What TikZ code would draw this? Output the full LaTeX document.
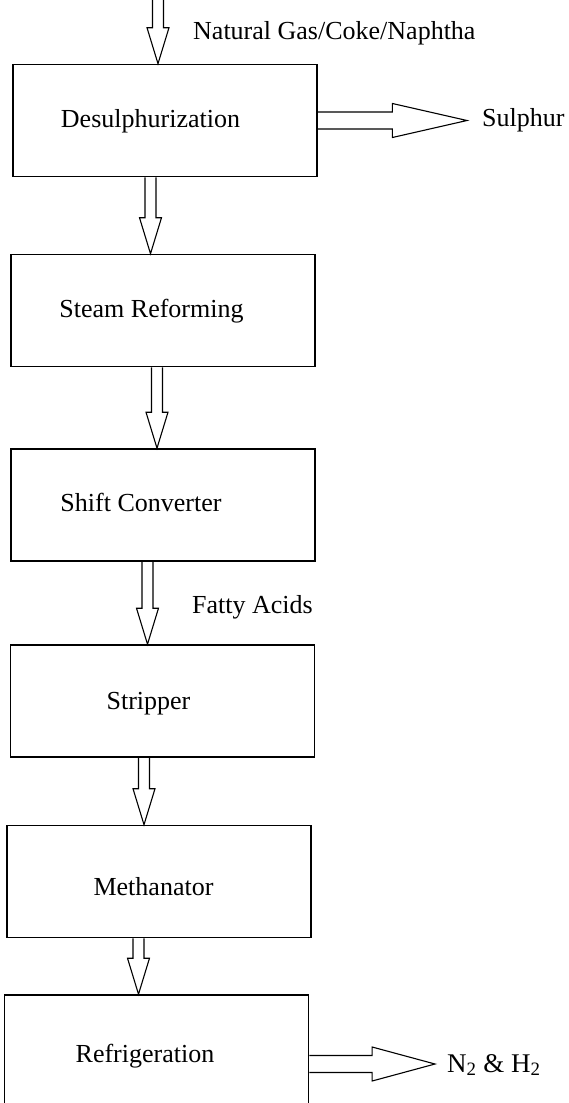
\documentclass[tikz,border=0pt]{standalone}
\usepackage{fontspec}
\setmainfont{Liberation Serif}
\usetikzlibrary{calc}

\begin{document}
\begin{tikzpicture}[x=1pt, y=-1pt,
		stage/.style={draw, line width=1.6pt, minimum width=304pt, minimum height=112pt, inner sep=0pt},
		tag/.style={inner sep=0pt, font=\fontsize{26}{30}\selectfont, text height=18pt, text depth=5pt},
		downflow/.style={line width=1.1pt, to path={let \p1=(\tikztostart), \p2=(\tikztotarget) in
			(\x1-5.5pt,\y1) -- (\x1-5.5pt,\y2+36pt) -- (\x1-11pt,\y2+36pt) -- (\x1,\y2)
			-- (\x1+11pt,\y2+36pt) -- (\x1+5.5pt,\y2+36pt) -- (\x1+5.5pt,\y1)}},
		rightflow/.style={line width=1.1pt, to path={let \p1=(\tikztostart), \p2=(\tikztotarget),
			\p3=($(\tikztostart)!0.5!(\tikztotarget)$) in
			(\x1,\y1+8.5pt) -- (\x3,\y1+8.5pt) -- (\x3,\y1+17pt) -- (\x2,\y1)
			-- (\x3,\y1-17pt) -- (\x3,\y1-8.5pt) -- (\x1,\y1-8.5pt)}}]
				\useasboundingbox (0,0) rectangle (568,1103);

				\node[stage, label={[tag, name=t1, xshift=-14.5pt]center:Desulphurization}] (desulph)at(165, 120.5) {};
				\node[stage, label={[tag, name=t2, xshift=-11.5pt]center:Steam Reforming}] (steam)at(163, 310.5) {};
				\node[stage, label={[tag, name=t3, xshift=-22pt]center:Shift Converter}] (shift)at(163, 505) {};
				\node[stage, label={[tag, name=t4, xshift=-14pt, yshift=-2pt]center:Stripper}] (stripper)at(162.5, 701) {};
				\node[stage, label={[tag, name=t5, xshift=-5.5pt, yshift=-7pt]center:Methanator}] (methan)at(159, 881.5) {};
				\node[stage, label={[tag, name=t6, xshift=-11.5pt, yshift=-5pt]center:Refrigeration}] (refrig)at(156.5, 1051) {};

				\node[tag, anchor=base west] (feedtxt)at(193, 39) {Natural Gas/Coke/Naphtha};
				\node[tag, anchor=base west] (sulphur)at(482, 126) {Sulphur};
				\node[tag, anchor=base west] (fatty)at(192, 613) {Fatty Acids};
				\node[tag, anchor=base west, font=\fontsize{27}{30}\selectfont] (products)at(447, 1072) {N\textsubscript{2} \& H\textsubscript{2}};

				\coordinate (feed) at (158, -5);
				\draw[downflow] (feed) to (desulph.north);
				\draw[downflow] ([xshift=-14.5pt]desulph.south) to (steam.north);
				\draw[downflow] ([xshift=-6pt]steam.south) to (shift.north);
				\draw[downflow] ([xshift=-15.5pt]shift.south) to (stripper.north);
				\draw[downflow] ([xshift=-18.5pt]stripper.south) to (methan.north);
				\draw[downflow] ([xshift=-20.5pt]methan.south) to (refrig.north);
				\draw[rightflow] (desulph.east) to ([xshift=-15pt]sulphur.west);
				\draw[rightflow] ([yshift=-13pt]refrig.east) to ([xshift=-12pt]products.west);
			\end{tikzpicture}
\end{document}
